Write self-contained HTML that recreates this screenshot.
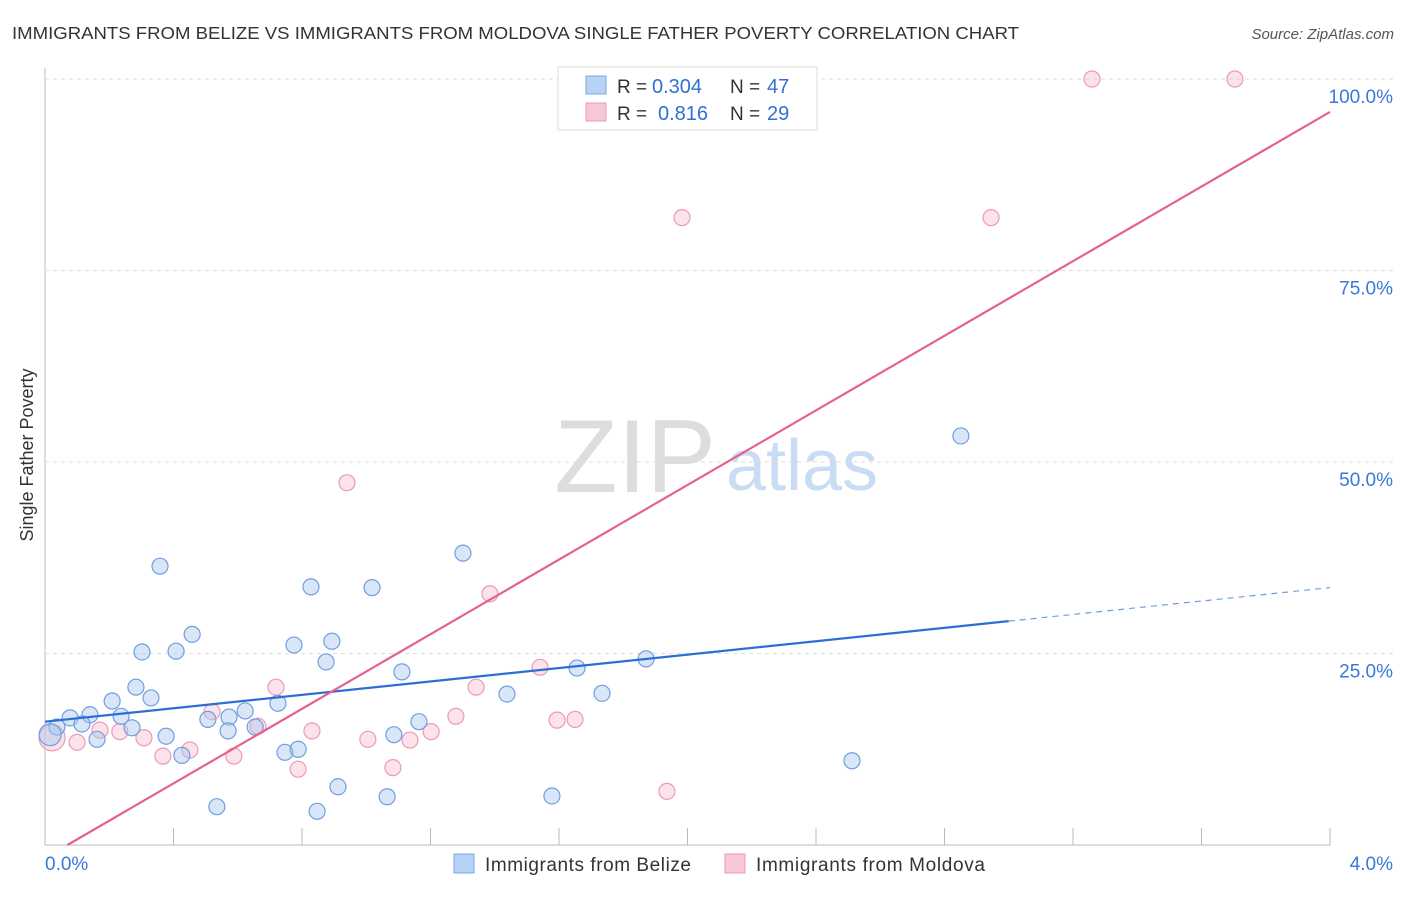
<!DOCTYPE html>
<html><head><meta charset="utf-8"><style>
body{margin:0;background:#fff;font-family:"Liberation Sans",sans-serif;}
svg text{font-family:"Liberation Sans",sans-serif;}
</style></head><body>
<svg id="c" width="1406" height="892">
<text x="12" y="39" font-size="17.5" fill="#333" textLength="1007" lengthAdjust="spacingAndGlyphs">IMMIGRANTS FROM BELIZE VS IMMIGRANTS FROM MOLDOVA SINGLE FATHER POVERTY CORRELATION CHART</text>
<text x="1394" y="39" font-size="15" fill="#555" font-style="italic" text-anchor="end">Source: ZipAtlas.com</text>
<text x="33" y="455" font-size="18" fill="#333" text-anchor="middle" transform="rotate(-90 33 455)">Single Father Poverty</text>
<g>
<text x="635" y="492" font-size="104" fill="#ddd" font-family="Liberation Serif, serif" text-anchor="middle">ZIP</text>
<text x="802" y="490" font-size="72" fill="#c9dcf3" text-anchor="middle">atlas</text>
</g>
<g id="grid"></g><g id="marks"></g><g id="lines"></g>
<g>
<rect x="558" y="67" width="259" height="63" fill="#fff" stroke="#ddd"/>
<rect x="586" y="76" width="20" height="18" fill="#b6d2f4" stroke="#7aa8e2"/>
<rect x="586" y="103" width="20" height="18" fill="#f9c8d8" stroke="#eb98b3"/>
<text x="617" y="93" font-size="19" fill="#333">R =</text>
<text x="652" y="93" font-size="20" fill="#2f6fd6">0.304</text>
<text x="730" y="93" font-size="19" fill="#333">N =</text>
<text x="767" y="93" font-size="20" fill="#2f6fd6">47</text>
<text x="617" y="120" font-size="19" fill="#333">R =</text>
<text x="658" y="120" font-size="20" fill="#2f6fd6">0.816</text>
<text x="730" y="120" font-size="19" fill="#333">N =</text>
<text x="767" y="120" font-size="20" fill="#2f6fd6">29</text>
</g>
<g>
<rect x="454" y="854" width="20" height="19" fill="#b6d2f4" stroke="#7aa8e2"/>
<text x="485" y="871" font-size="19" fill="#333" textLength="206">Immigrants from Belize</text>
<rect x="725" y="854" width="20" height="19" fill="#f9c8d8" stroke="#eb98b3"/>
<text x="756" y="871" font-size="19" fill="#333" textLength="229">Immigrants from Moldova</text>
</g>
</svg>
<script>
const yTicks=[25,50,75,100];
const yTickLabels=["25.0%","50.0%","75.0%","100.0%"];
const xTickCount=10;
const belizeX=[0.358,0.302,0.408,0.458,0.283,0.330,0.209,0.037,0.078,0.140,0.115,0.237,0.377,0.162,0.271,0.507,0.573,0.623,0.426,0.570,0.654,0.725,0.775,0.828,0.875,0.893,1.018,1.111,1.301,0.747,0.788,0.535,0.847,0.912,1.065,1.086,1.164,1.438,1.578,1.656,1.734,1.871,2.512,2.851,0.016];
const belizeY=[36.4,25.2,25.3,27.5,20.6,19.2,18.8,15.4,16.6,17.0,15.8,16.8,14.2,13.8,15.3,16.4,16.7,17.5,11.7,14.9,15.4,18.5,26.1,33.7,23.9,26.6,33.6,22.6,38.1,12.1,12.5,5.0,4.4,7.6,6.3,14.4,16.1,19.7,6.4,23.1,19.8,24.3,11.0,53.4,14.4];
const moldovaX=[3.259,3.704,1.983,2.945,0.940,1.385,1.541,1.342,0.719,0.520,0.663,0.831,0.451,0.367,0.588,0.788,1.005,1.136,1.202,1.083,1.279,1.594,1.650,1.936,0.308,0.233,0.171,0.100,0.022];
const moldovaY=[100,100,81.9,81.9,47.3,32.8,23.2,20.6,20.6,17.4,15.5,14.9,12.4,11.6,11.6,9.9,13.8,13.7,14.8,10.1,16.8,16.3,16.4,7.0,14.0,14.8,15.0,13.4,14.0];
const belizeTrend=[16.1,33.6];
const moldovaTrend=[-1.7,95.7];
const NS='http://www.w3.org/2000/svg';
const X=v=>45+v/4*1285, Y=v=>845-v/100*766;
function mk(t,a,p){const e=document.createElementNS(NS,t);for(const k in a)e.setAttribute(k,a[k]);p.appendChild(e);return e;}
const g=document.getElementById('grid');
let ax=mk('line',{x1:45,y1:68,x2:45,y2:845,stroke:'#bbb'},g);


let bx=mk('line',{x1:45,y1:845,x2:1330,y2:845,stroke:'#bbb'},g);


yTicks.forEach((t,i)=>{
 let l=mk('line',{x1:45,y1:Y(t),x2:1394,y2:Y(t),stroke:'#ddd','stroke-dasharray':'4 4'},g);
 
 
 let tx=mk('text',{x:1393,y:Y(t)+24,'font-size':19,fill:'#3a78d8','text-anchor':'end'},g);
 tx.textContent=yTickLabels[i];
 
 
});
for(let i=1;i<=xTickCount;i++){
 let l=mk('line',{x1:X(i*0.4),y1:828,x2:X(i*0.4),y2:845,stroke:'#bbb'},g);
 
 
}
let x0=mk('text',{x:45,y:870,'font-size':19,fill:'#3a78d8'},g);x0.textContent='0.0%';


let x1=mk('text',{x:1393,y:870,'font-size':19,fill:'#3a78d8','text-anchor':'end'},g);x1.textContent='4.0%';


const m=document.getElementById('marks');
moldovaX.forEach((v,i)=>{
 let c=mk('circle',{cx:X(v),cy:Y(moldovaY[i]),r:i==moldovaX.length-1?13:8,fill:'rgba(248,190,210,0.45)',stroke:'#ec9ab5','stroke-width':1.2},m);
 
 
});
belizeX.forEach((v,i)=>{
 let c=mk('circle',{cx:X(v),cy:Y(belizeY[i]),r:i==belizeX.length-1?11:8,fill:'rgba(168,200,240,0.45)',stroke:'#6f9fe0','stroke-width':1.2},m);
 
 
});
const L=document.getElementById('lines');
const by=x=>belizeTrend[0]+(belizeTrend[1]-belizeTrend[0])*x/4;
let b1=mk('line',{x1:X(0),y1:Y(by(0)),x2:X(3.0),y2:Y(by(3.0)),stroke:'#2b6fd6','stroke-width':2.2},L);


let b2=mk('line',{x1:X(3.0),y1:Y(by(3.0)),x2:X(4),y2:Y(by(4)),stroke:'#6f9fe0','stroke-width':1.2,'stroke-dasharray':'6 5'},L);


const my=x=>moldovaTrend[0]+(moldovaTrend[1]-moldovaTrend[0])*x/4;
const xs=-moldovaTrend[0]*4/(moldovaTrend[1]-moldovaTrend[0]);
let p=mk('line',{x1:X(xs),y1:Y(0),x2:X(4),y2:Y(my(4)),stroke:'#e4628e','stroke-width':2.2},L);


</script>
</body></html>
